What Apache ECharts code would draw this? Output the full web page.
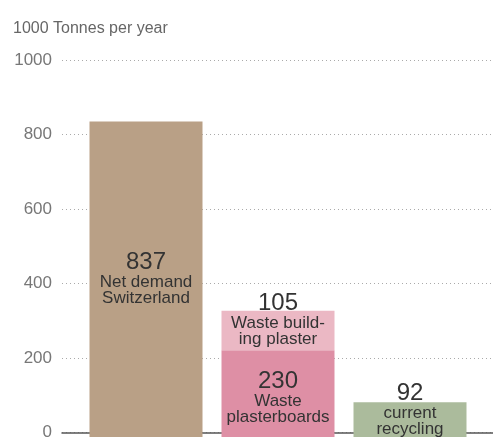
<!DOCTYPE html>
<html>
<head>
<meta charset="utf-8">
<script src="https://cdn.jsdelivr.net/npm/echarts@6/dist/echarts.min.js"></script>
<style>
html,body{margin:0;padding:0;background:#fff;}
#c{width:493px;height:441px;}
</style>
</head>
<body>
<div id="c"></div>
<script>
var unitTitle = '1000 Tonnes per year';
var categories = ['Net demand', 'Waste', 'Recycling'];
var baseValues = [837, 230, 92];
var baseNames = ['Net demand\nSwitzerland', 'Waste\nplasterboards', 'current\nrecycling'];
var topValues = ['-', 105, '-'];
var topNames = ['', 'Waste build-\ning plaster', ''];
var baseColors = ['#b9a086', '#de8fa5', '#abbb9c'];
var topColor = '#ebb8c4';
var yTicks = [0, 200, 400, 600, 800, 1000];

var FONT = 'Liberation Sans, Arial, sans-serif';
var rich = {
  v: {fontSize: 24, lineHeight: 24, color: '#333', fontFamily: FONT},
  t: {fontSize: 17, lineHeight: 16, color: '#333', fontFamily: FONT}
};
function lbl(value, name) {
  var lines = name.split('\n').map(function (s) { return '{t|' + s + '}'; }).join('\n');
  return '{v|' + value + '}\n' + lines;
}

var baseOffsets = [[0, -1], [0, 4], [0, -10]];
var baseData = baseValues.map(function (v, i) {
  return {
    value: v,
    itemStyle: {color: baseColors[i]},
    label: {show: true, position: 'inside', offset: baseOffsets[i], formatter: lbl(v, baseNames[i]), rich: rich}
  };
});
var topData = topValues.map(function (v, i) {
  if (v === '-') return '-';
  return {
    value: v,
    itemStyle: {color: topColor},
    label: {show: true, position: 'inside', offset: [0, -11], formatter: lbl(v, topNames[i]), rich: rich}
  };
});

var chart = echarts.init(document.getElementById('c'));
chart.setOption({
  animation: false,
  backgroundColor: '#fff',
  title: {
    text: unitTitle, left: 8, top: 16,
    textStyle: {fontSize: 16, fontWeight: 'normal', color: '#666', fontFamily: FONT}
  },
  grid: [
    {left: 62, right: 0, top: 60, bottom: 4},
    {left: 80, width: 396, top: 60, bottom: 4}
  ],
  xAxis: [
    {gridIndex: 0, type: 'category', data: ['a'], axisLine: {show: true, lineStyle: {color: '#555', width: 1.5}}, axisTick: {show: false}, axisLabel: {show: false}},
    {gridIndex: 1, type: 'category', data: categories, show: false}
  ],
  yAxis: [
    {gridIndex: 0, type: 'value', min: yTicks[0], max: yTicks[yTicks.length - 1], interval: 200,
     axisLine: {show: false}, axisTick: {show: false},
     axisLabel: {color: '#777', fontSize: 17, margin: 10, fontFamily: FONT, formatter: function (v) { return String(v); }},
     splitLine: {show: true, lineStyle: {color: '#aaa', type: [1, 3], width: 1}}},
    {gridIndex: 1, type: 'value', min: 0, max: 1000, interval: 200, show: false, splitLine: {show: false}}
  ],
  series: [
    {type: 'bar', xAxisIndex: 1, yAxisIndex: 1, stack: 's', barWidth: 113, data: baseData},
    {type: 'bar', xAxisIndex: 1, yAxisIndex: 1, stack: 's', barWidth: 113, data: topData}
  ]
});
</script>
</body>
</html>
